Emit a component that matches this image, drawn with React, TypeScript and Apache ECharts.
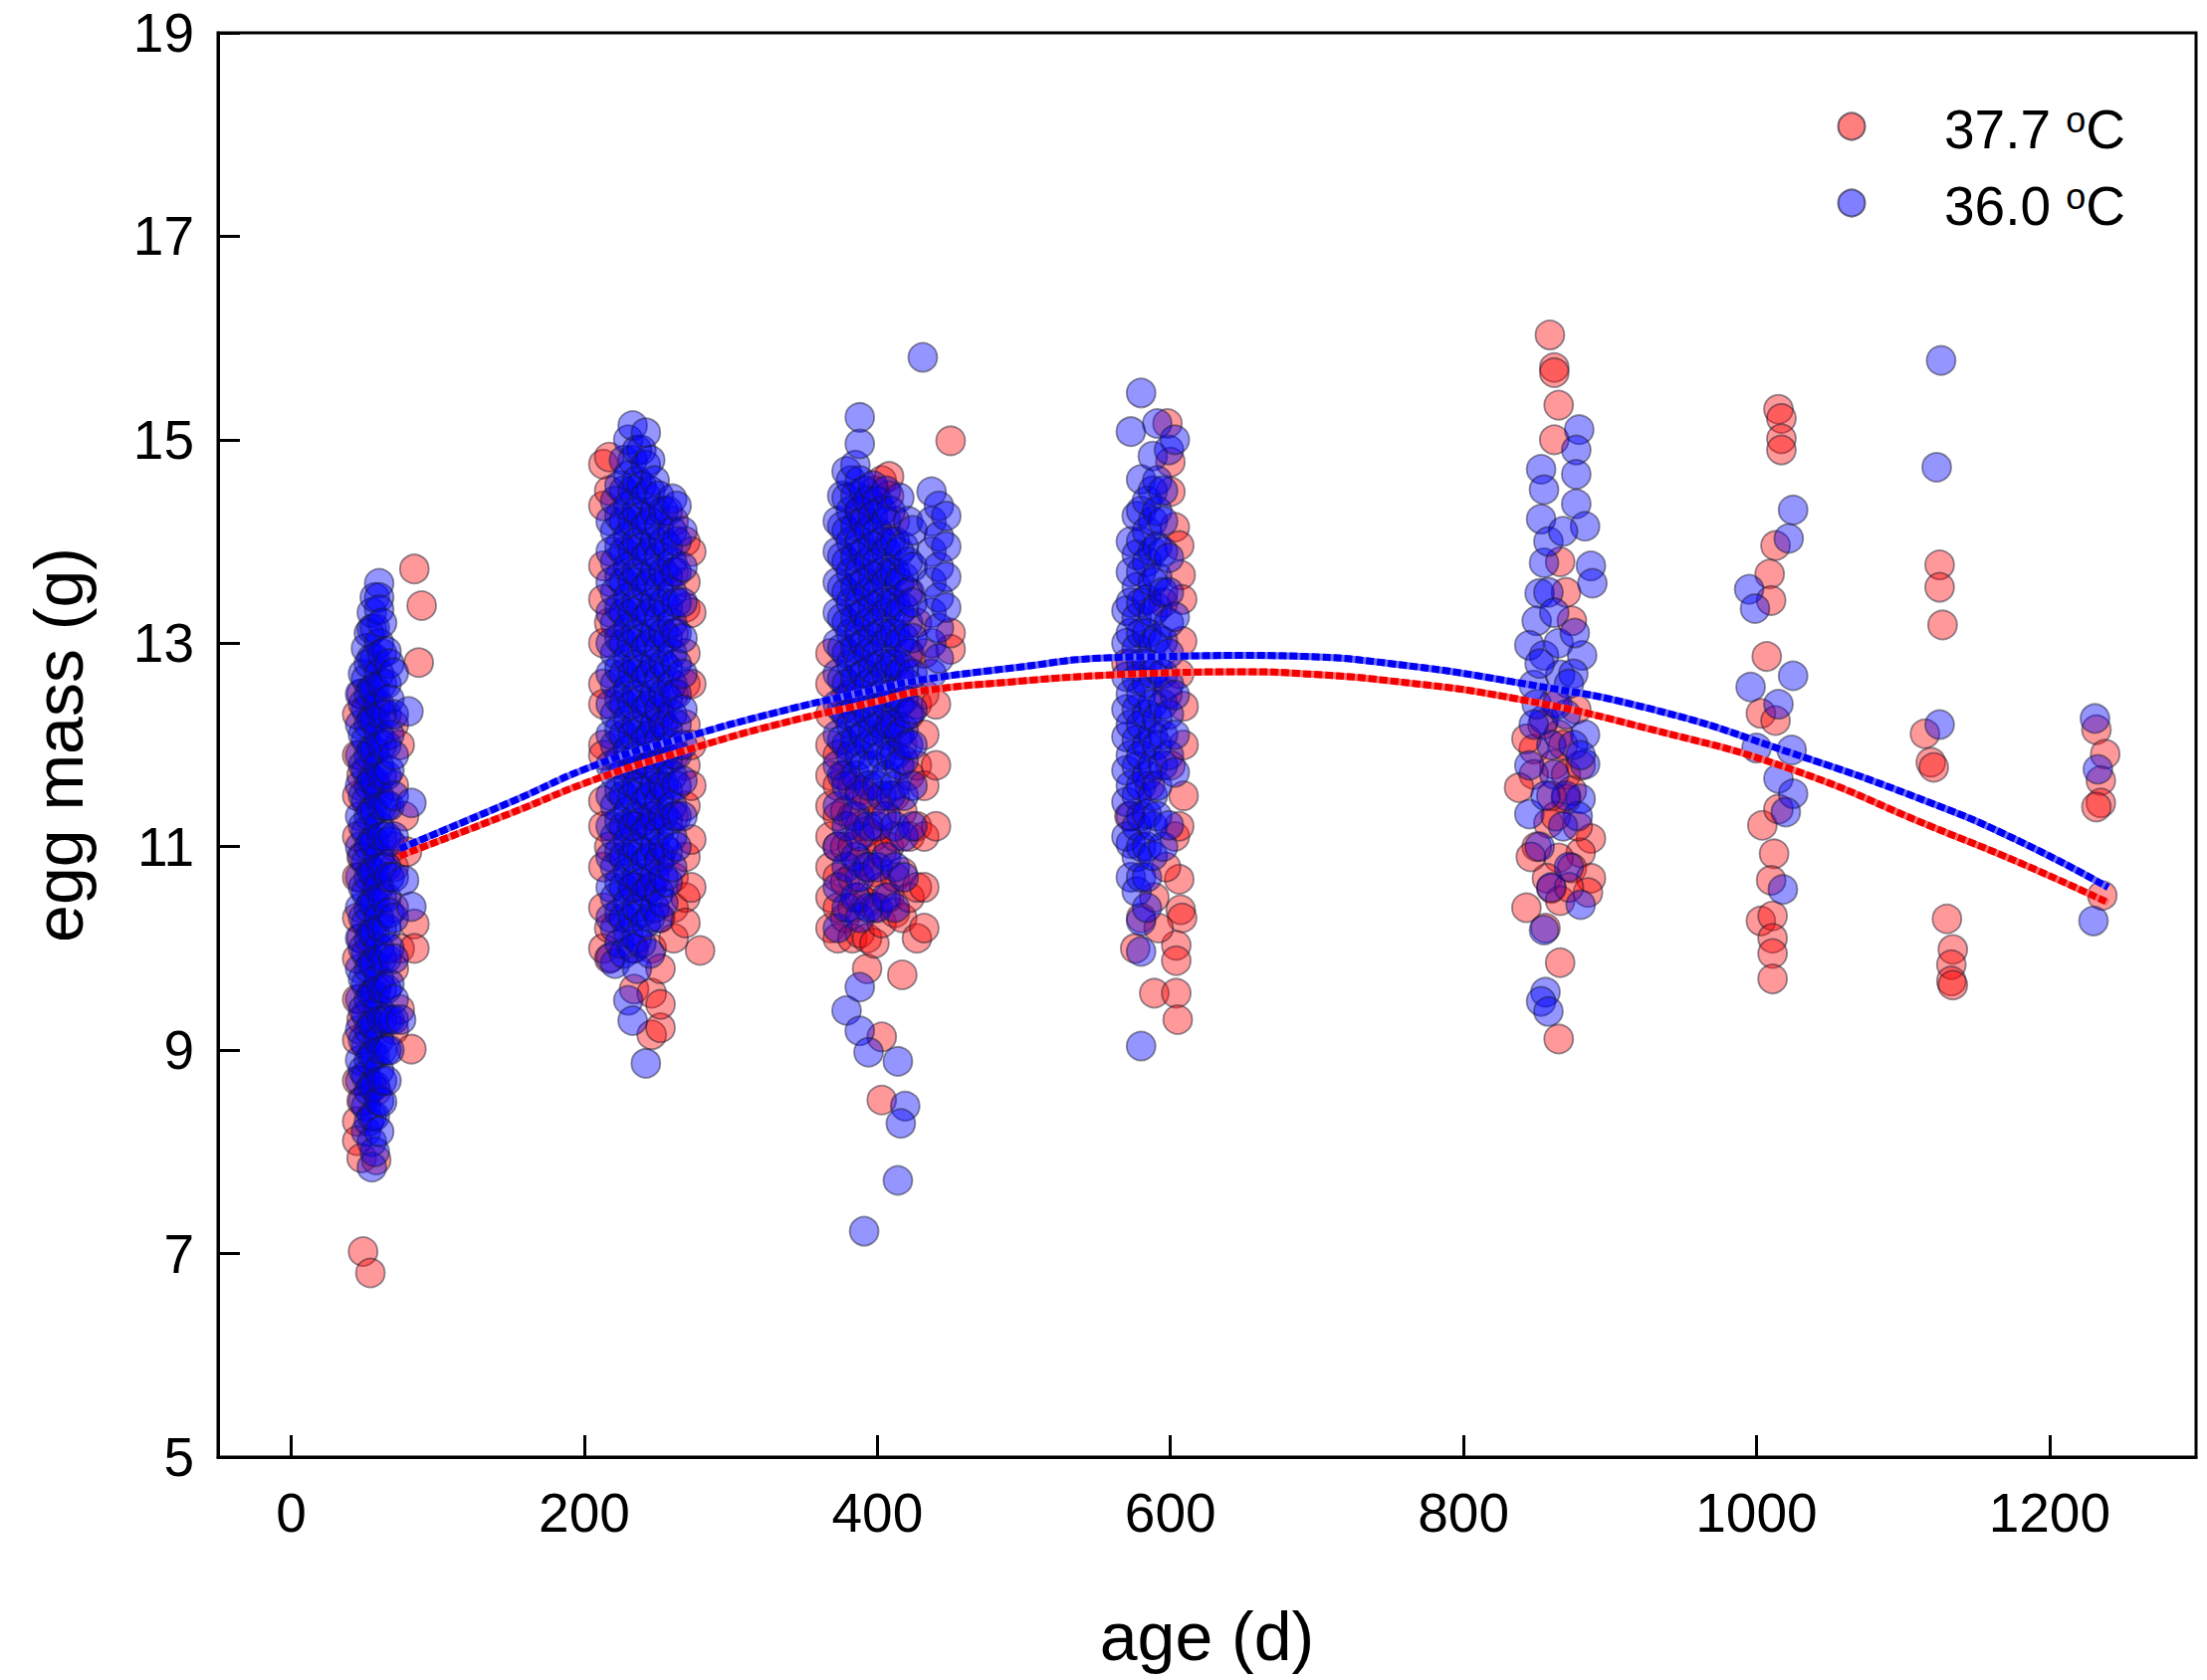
import React, { useEffect, useRef } from "react";
import * as echarts from "echarts";

type Col = [number, number[]];
type Pt = [number, number];

// ---------- tick values ----------
const xTicks = [0, 200, 400, 600, 800, 1000, 1200];

// ---------- 37.7 °C (red) : columns of [age, masses] ----------
const red1: Col[] = [
  [45, [12.3, 11.9, 11.5, 11.1, 10.7, 10.3, 9.9, 9.5, 9.1, 8.7, 8.3, 8.11]],
  [48, [7.94, 8.5, 9.3, 10.1, 10.9, 11.7, 12.5]],
  [58, [7.92, 8.6, 9.6, 10.6, 11.6, 12.4]],
  [70, [12.2, 11.6, 11.0, 10.4, 9.8, 9.2, 10.8]],
  [74, [12.0, 10.0, 9.4]],
];
const red1Out: Pt[] = [
  [84, 13.73], [89, 13.37], [87, 12.81], [84, 10.24], [84, 10.0], [82, 9.01],
  [49, 7.02], [54, 6.81], [79, 10.95], [77, 11.3],
];
const red2: Col[] = [
  [213, [14.76, 14.35, 13.76, 13.43, 13.0, 12.6, 12.4, 12.0, 11.9, 11.45, 11.2, 10.8, 10.4, 10.0]],
  [217, [14.83, 14.5, 13.2, 11.0, 10.2, 9.9]],
  [234, [11.8, 11.2, 10.6, 10.0, 9.6]],
  [246, [9.15, 9.56, 10.0, 10.6, 11.3, 12.0]],
  [252, [9.22, 9.45, 9.8, 10.3, 10.9, 11.6, 12.3]],
  [261, [10.1, 10.4, 10.7, 11.3, 11.9, 12.5, 13.1, 13.7, 14.2]],
  [269, [14.0, 13.6, 13.35, 12.9, 12.6, 12.2, 11.8, 11.4, 10.9, 10.5, 10.25]],
  [273, [10.6, 11.07, 11.6, 12.0, 12.6, 13.3, 13.9]],
  [279, [9.98]],
];
const red3: Col[] = [
  [368, [12.9, 12.6, 12.3, 12.0, 11.7, 11.4, 11.1, 10.8, 10.5, 10.2]],
  [373, [11.9, 11.6, 11.3, 11.0, 10.7, 10.4, 10.1]],
  [378, [12.45, 11.7, 11.35, 11.0, 10.65, 10.3]],
  [383, [11.6, 11.3, 11.0, 10.7, 10.4, 10.1]],
  [388, [11.55, 11.2, 10.85, 10.5, 10.15, 14.3]],
  [393, [11.5, 11.15, 10.8, 10.45, 10.1, 9.8]],
  [398, [11.45, 11.1, 10.75, 10.4, 10.05, 14.5]],
  [403, [11.3, 10.95, 10.6, 10.25, 9.13, 8.51, 14.6]],
  [408, [14.64, 14.45, 12.2, 11.0, 10.5]],
  [412, [11.5, 11.1, 10.7, 10.35, 14.2]],
  [417, [12.6, 12.0, 11.35, 10.75, 10.3, 9.74]],
  [422, [12.9, 12.3, 11.7, 11.1, 10.5, 13.5]],
  [427, [12.4, 11.8, 11.2, 10.6, 10.1, 13.2]],
  [432, [12.9, 12.5, 12.1, 11.6, 11.1, 10.6, 10.2]],
  [440, [12.4, 11.8, 11.2]],
  [450, [14.99, 12.94, 13.1]],
];
const red4: Pt[] = [
  [598, 15.16], [600, 14.78], [600, 14.49], [603, 14.14], [606, 13.96], [607, 13.67],
  [608, 13.43], [608, 13.02], [609, 12.38], [609, 12.0], [609, 11.5], [606, 10.68],
  [607, 10.38], [608, 10.3], [604, 10.03], [604, 9.88], [589, 9.56], [604, 9.56],
  [605, 9.3], [598, 12.5], [600, 11.8], [603, 11.1], [589, 10.5], [580, 10.3],
  [572, 11.3], [570, 12.8], [595, 13.4], [586, 11.6], [606, 12.7], [597, 10.8],
  [592, 10.2], [606, 11.2], [576, 10.0],
];
const red5: Pt[] = [
  [859, 16.03], [862, 15.71], [862, 15.66], [865, 15.34], [862, 15.0], [866, 13.8],
  [870, 13.5], [874, 13.22], [862, 12.42], [877, 12.35], [848, 11.96], [865, 12.1],
  [862, 11.81], [848, 11.71], [870, 11.71], [870, 11.47], [874, 11.55], [858, 11.23],
  [887, 11.08], [880, 10.94], [865, 10.89], [874, 10.79], [857, 10.69], [887, 10.69],
  [860, 10.59], [885, 10.55], [866, 10.47], [843, 10.4], [866, 9.86], [865, 9.11],
  [838, 11.58], [843, 12.06], [854, 12.2], [868, 12.0], [860, 11.5], [878, 11.2],
  [850, 11.0], [872, 10.6], [856, 10.2], [880, 11.8], [863, 11.3], [846, 10.9],
];
const red6: Pt[] = [
  [1015, 15.3], [1017, 15.21], [1017, 15.01], [1017, 14.9], [1013, 13.96], [1009, 13.68],
  [1010, 13.42], [1007, 12.87], [1003, 12.31], [1013, 12.24], [1004, 11.21], [1015, 11.37],
  [1012, 10.93], [1010, 10.67], [1003, 10.27], [1011, 10.32], [1011, 10.1], [1011, 9.95],
  [1011, 9.7],
];
const red7: Pt[] = [
  [1125, 13.77], [1125, 13.55], [1127, 13.18], [1115, 12.11], [1119, 11.83], [1121, 11.78],
  [1130, 10.29], [1134, 9.99], [1133, 9.84], [1133, 9.68], [1134, 9.64],
];
const red8: Pt[] = [
  [1232, 12.15], [1238, 11.91], [1235, 11.65], [1235, 11.43], [1232, 11.39], [1236, 10.52],
];

// ---------- 36.0 °C (blue) ----------
const blue1: Col[] = [
  [47, [12.5, 12.2, 11.9, 11.6, 11.3, 11.0, 10.7, 10.4, 10.1, 9.8, 9.5, 9.2, 8.9, 8.7]],
  [49, [12.7, 12.4, 12.1, 11.8, 11.5, 11.2, 10.9, 10.6, 10.3, 10.0, 9.7, 9.4, 9.1, 8.8, 8.5]],
  [51, [12.95, 12.65, 12.35, 12.05, 11.75, 11.45, 11.15, 10.85, 10.55, 10.25, 9.95, 9.65, 9.35, 9.05, 8.75, 8.45, 8.2]],
  [53, [13.1, 12.8, 12.5, 12.2, 11.9, 11.6, 11.3, 11.0, 10.7, 10.4, 10.1, 9.8, 9.5, 9.2, 8.9, 8.6, 8.3]],
  [55, [13.3, 13.14, 12.85, 12.55, 12.25, 11.95, 11.65, 11.35, 11.05, 10.75, 10.45, 10.15, 9.85, 9.55, 9.25, 8.95, 8.65, 8.35, 8.1, 7.85]],
  [57, [13.45, 13.15, 12.85, 12.55, 12.25, 11.95, 11.65, 11.35, 11.05, 10.75, 10.45, 10.15, 9.85, 9.55, 9.25, 8.95, 8.65, 8.35, 8.0]],
  [60, [13.59, 13.45, 13.33, 13.0, 12.7, 12.4, 12.1, 11.8, 11.5, 11.2, 10.9, 10.6, 10.3, 10.0, 9.7, 9.4, 9.1, 8.8, 8.5, 8.2]],
  [62, [13.2, 12.9, 12.6, 12.3, 12.0, 11.7, 11.4, 11.1, 10.8, 10.5, 10.2, 9.9, 9.6, 9.3, 9.0, 8.7, 8.49]],
  [65, [12.92, 12.6, 12.3, 12.0, 11.7, 11.4, 11.1, 10.8, 10.5, 10.2, 9.9, 9.6, 9.3, 9.0, 8.7]],
  [67, [12.8, 12.45, 12.1, 11.75, 11.4, 11.05, 10.7, 10.35, 10.0, 9.65, 9.3, 9.0]],
  [70, [12.71, 12.3, 11.9, 11.5, 11.1, 10.7, 10.3, 9.9, 9.5, 9.3]],
];
const blue1Out: Pt[] = [[80, 12.33], [82, 11.43], [77, 10.67], [82, 10.41], [75, 9.3]];
const blue2: Col[] = [
  [218, [14.2, 13.9, 13.6, 13.3, 13.0, 12.7, 12.4, 12.1, 11.8, 11.5, 11.2, 10.9, 10.6, 10.3, 9.91]],
  [221, [14.4, 14.1, 13.8, 13.5, 13.2, 12.9, 12.6, 12.3, 12.0, 11.7, 11.4, 11.1, 10.8, 10.5, 10.2, 9.85]],
  [224, [14.55, 14.25, 13.95, 13.65, 13.35, 13.05, 12.75, 12.45, 12.15, 11.85, 11.55, 11.25, 10.95, 10.65, 10.35, 10.05]],
  [227, [14.8, 14.5, 14.2, 13.9, 13.6, 13.3, 13.0, 12.7, 12.4, 12.1, 11.8, 11.5, 11.2, 10.9, 10.6, 10.3, 9.95]],
  [230, [15.0, 14.65, 14.35, 14.05, 13.75, 13.45, 13.15, 12.85, 12.55, 12.25, 11.95, 11.65, 11.35, 11.05, 10.75, 10.45, 10.15, 9.49]],
  [233, [15.14, 14.8, 14.5, 14.2, 13.9, 13.6, 13.3, 13.0, 12.7, 12.4, 12.1, 11.8, 11.5, 11.2, 10.9, 10.6, 10.3, 10.0, 9.29]],
  [236, [14.9, 14.6, 14.3, 14.0, 13.7, 13.4, 13.1, 12.8, 12.5, 12.2, 11.9, 11.6, 11.3, 11.0, 10.7, 10.4, 10.1, 9.8]],
  [239, [14.9, 14.55, 14.25, 13.95, 13.65, 13.35, 13.05, 12.75, 12.45, 12.15, 11.85, 11.55, 11.25, 10.95, 10.65, 10.35, 10.05]],
  [242, [15.07, 14.75, 14.45, 14.15, 13.85, 13.55, 13.25, 12.95, 12.65, 12.35, 12.05, 11.75, 11.45, 11.15, 10.85, 10.55, 10.25, 8.87]],
  [245, [14.8, 14.5, 14.2, 13.9, 13.6, 13.3, 13.0, 12.7, 12.4, 12.1, 11.8, 11.5, 11.2, 10.9, 10.6, 10.3, 9.95]],
  [248, [14.6, 14.3, 14.0, 13.7, 13.4, 13.1, 12.8, 12.5, 12.2, 11.9, 11.6, 11.3, 11.0, 10.7, 10.4]],
  [251, [14.45, 14.15, 13.85, 13.55, 13.25, 12.95, 12.65, 12.35, 12.05, 11.75, 11.45, 11.15, 10.85, 10.55, 10.3]],
  [254, [14.3, 14.0, 13.7, 13.4, 13.1, 12.8, 12.5, 12.2, 11.9, 11.6, 11.3, 11.0, 10.7, 10.45]],
  [257, [14.3, 13.95, 13.65, 13.35, 13.05, 12.75, 12.45, 12.15, 11.85, 11.55, 11.25, 10.95, 10.65]],
  [260, [14.42, 14.1, 13.8, 13.5, 13.2, 12.9, 12.6, 12.3, 12.0, 11.7, 11.4, 11.1, 10.8]],
  [263, [14.35, 14.0, 13.7, 13.4, 13.1, 12.8, 12.5, 12.2, 11.9, 11.6, 11.3, 11.0]],
  [267, [14.1, 13.75, 13.4, 13.05, 12.7, 12.35, 12.0, 11.65, 11.3]],
];
const blue3: Col[] = [
  [373, [14.2, 13.9, 13.6, 13.3, 13.0, 12.7, 12.4, 12.1, 11.8, 11.4, 11.0, 10.6, 10.2]],
  [376, [14.45, 14.15, 13.85, 13.55, 13.25, 12.95, 12.65, 12.35, 12.05, 11.7]],
  [379, [14.69, 14.43, 14.1, 13.8, 13.5, 13.2, 12.9, 12.6, 12.3, 12.0, 11.6, 11.2, 10.8, 10.4, 9.39]],
  [382, [14.6, 14.3, 14.0, 13.7, 13.4, 13.1, 12.8, 12.5, 12.2, 11.9]],
  [385, [14.75, 14.45, 14.15, 13.85, 13.55, 13.25, 12.95, 12.65, 12.35, 12.05, 11.7, 11.3, 10.9, 10.5]],
  [388, [15.22, 14.96, 14.6, 14.3, 14.0, 13.7, 13.4, 13.1, 12.8, 12.5, 12.2, 11.9, 11.5, 11.1, 10.7, 10.3, 9.62, 9.19]],
  [391, [14.5, 14.2, 13.9, 13.6, 13.3, 13.0, 12.7, 12.4, 12.1, 11.8]],
  [394, [14.4, 14.1, 13.8, 13.5, 13.2, 12.9, 12.6, 12.3, 12.0, 11.6, 11.2, 10.8, 10.4, 8.98]],
  [397, [14.55, 14.25, 13.95, 13.65, 13.35, 13.05, 12.75, 12.45, 12.15, 11.8]],
  [400, [14.4, 14.1, 13.8, 13.5, 13.2, 12.9, 12.6, 12.3, 12.0, 11.6, 11.2, 10.8, 10.4]],
  [403, [14.3, 14.0, 13.7, 13.4, 13.1, 12.8, 12.5, 12.2, 11.9, 11.5]],
  [406, [14.5, 14.2, 13.9, 13.6, 13.3, 13.0, 12.7, 12.4, 12.1, 11.7, 11.3, 10.9, 10.5]],
  [409, [14.3, 14.0, 13.7, 13.4, 13.1, 12.8, 12.5, 12.2, 11.9, 11.5]],
  [412, [14.0, 13.7, 13.4, 13.1, 12.8, 12.5, 12.2, 11.9, 11.6, 11.2, 10.8, 10.4]],
  [415, [14.43, 13.9, 13.6, 13.3, 13.0, 12.7, 12.4, 12.1, 11.8]],
  [418, [13.95, 13.65, 13.35, 13.05, 12.75, 12.45, 12.15, 11.85, 11.5, 11.1, 10.7]],
  [421, [14.2, 13.8, 13.5, 13.2, 12.9, 12.6, 12.3, 12.0]],
  [424, [14.11, 13.75, 13.4, 13.05, 12.7, 12.35, 12.0, 11.6, 11.2]],
  [437, [14.49, 14.2, 13.9, 13.6, 13.3, 13.0, 12.7]],
  [442, [14.35, 14.05, 13.75, 13.45, 13.15, 12.85]],
  [447, [14.25, 13.95, 13.65, 13.35]],
];
const blue3Out: Pt[] = [
  [431, 15.81], [414, 8.89], [419, 8.45], [416, 8.28], [414, 7.72], [391, 7.22],
];
const blue4: Col[] = [
  [570, [13.32, 13.0, 12.67, 12.35, 12.08, 11.75, 11.44, 11.1]],
  [573, [15.08, 14.0, 13.7, 13.4, 13.1, 12.8, 12.5, 12.2, 11.9, 11.6, 11.3, 11.03, 10.7]],
  [577, [14.25, 13.87, 13.55, 13.25, 12.95, 12.65, 12.35, 12.05, 11.79, 11.5, 11.2, 10.9, 10.56]],
  [580, [15.46, 14.61, 14.3, 14.0, 13.7, 13.4, 13.1, 12.8, 12.5, 12.2, 11.9, 11.6, 11.3, 11.0, 10.7, 10.27, 9.97, 9.04]],
  [584, [14.4, 14.1, 13.8, 13.43, 13.1, 12.8, 12.61, 12.3, 12.0, 11.7, 11.32, 11.0, 10.7, 10.4]],
  [588, [14.84, 14.5, 14.2, 13.9, 13.6, 13.3, 13.0, 12.7, 12.4, 12.1, 11.8, 11.5, 11.2, 10.91]],
  [591, [15.16, 14.6, 14.3, 13.95, 13.65, 13.35, 13.05, 12.75, 12.26, 12.0, 11.6, 11.3]],
  [595, [14.5, 14.2, 13.9, 13.5, 13.02, 12.7, 12.4, 12.1, 11.8, 11.0]],
  [599, [14.9, 13.84, 13.5, 13.2, 12.9, 12.6, 12.3, 11.9, 11.21]],
  [603, [15.0, 13.26, 12.49, 12.1, 11.73]],
];
const blue5: Pt[] = [
  [879, 15.1], [877, 14.9], [877, 14.66], [853, 14.71], [855, 14.51], [877, 14.37],
  [853, 14.22], [883, 14.15], [887, 13.76], [888, 13.59], [855, 13.79], [852, 13.49],
  [850, 13.22], [845, 12.98], [855, 12.88], [881, 12.88], [866, 12.69], [848, 12.59],
  [875, 12.7], [855, 12.25], [883, 12.1], [883, 11.81], [862, 11.71], [845, 11.32],
  [880, 11.47], [878, 11.3], [880, 10.43], [855, 10.18], [856, 9.57], [853, 9.48],
  [858, 9.38], [850, 12.4], [860, 12.0], [870, 12.3], [865, 13.0], [858, 13.5],
  [870, 11.5], [845, 11.8], [875, 12.0], [852, 12.8], [868, 11.2], [852, 11.0],
  [872, 10.8], [860, 10.6], [858, 14.0], [862, 13.3], [872, 12.6], [848, 12.2],
  [864, 12.4], [876, 13.1], [868, 14.1], [880, 11.9], [856, 11.5],
];
const blue6: Pt[] = [
  [1025, 14.31], [1022, 14.03], [995, 13.53], [999, 13.34], [996, 12.57], [1025, 12.68],
  [1015, 12.4], [1000, 11.97], [1024, 11.95], [1015, 11.67], [1025, 11.52], [1020, 11.34],
  [1018, 10.58],
];
const blue7: Pt[] = [[1126, 15.78], [1123, 14.73], [1125, 12.2]];
const blue8: Pt[] = [[1231, 12.26], [1233, 11.76], [1230, 10.27]];

// ---------- fitted curves ----------
const fitAges = [74, 150, 209, 270, 331, 400, 430, 500, 548, 600, 650, 691, 750, 834, 929, 1024, 1119, 1180, 1240];
const fitRed = [10.91, 11.33, 11.67, 11.95, 12.2, 12.43, 12.53, 12.63, 12.68, 12.71, 12.72, 12.7, 12.63, 12.46, 12.15, 11.76, 11.2, 10.84, 10.45];
const fitBlue = [10.98, 11.44, 11.81, 12.08, 12.32, 12.55, 12.64, 12.77, 12.85, 12.87, 12.88, 12.87, 12.8, 12.62, 12.35, 11.92, 11.43, 11.05, 10.6];

const flat = (cols: Col[]): Pt[] => cols.flatMap(([a, ms]) => ms.map((m) => [a, m] as Pt));

const FONT = "'Liberation Sans', Arial, Helvetica, sans-serif";

export default function App() {
  const ref = useRef<HTMLDivElement>(null);
  useEffect(() => {
    document.body.style.margin = "0";
    const chart = echarts.init(ref.current!, null, { renderer: "svg" });
    const redData = [
      ...flat(red1), ...red1Out, ...flat(red2), ...flat(red3), ...red4, ...red5, ...red6, ...red7, ...red8,
    ];
    const blueData = [
      ...flat(blue1), ...blue1Out, ...flat(blue2), ...flat(blue3), ...blue3Out, ...flat(blue4), ...blue5,
      ...blue6, ...blue7, ...blue8,
    ];
    const edge = "rgba(25,25,45,0.6)";
    const redFitData = fitAges.map((a, i) => [a, fitRed[i]]);
    const blueFitData = fitAges.map((a, i) => [a, fitBlue[i]]);
    const rich = {
      a: { fontSize: 55, fontFamily: FONT, color: "#000" },
      s: { fontSize: 36, fontFamily: FONT, color: "#000", verticalAlign: "top", lineHeight: 34 },
    };
    chart.setOption({
      animation: false,
      backgroundColor: "#fff",
      grid: {
        left: 219, top: 33, width: 1987, height: 1431,
        show: true, borderColor: "#000", borderWidth: 3, backgroundColor: "transparent",
      },
      xAxis: {
        type: "value", min: -50, max: 1300,
        name: "age (d)", nameLocation: "middle", nameGap: 146,
        nameTextStyle: { fontSize: 68, color: "#000", fontFamily: FONT },
        axisLine: { show: true, onZero: false, lineStyle: { color: "#000", width: 3 } },
        axisTick: { show: true, inside: true, length: 22, customValues: xTicks, lineStyle: { color: "#000", width: 3 } },
        axisLabel: {
          show: true, customValues: xTicks, fontSize: 55, color: "#000", fontFamily: FONT, margin: 28,
          formatter: (v: number) => String(v),
        },
        splitLine: { show: false },
      },
      yAxis: {
        type: "value", min: 5, max: 19, interval: 2,
        name: "egg mass (g)", nameLocation: "middle", nameGap: 126,
        nameTextStyle: { fontSize: 68, color: "#000", fontFamily: FONT },
        axisLine: { show: true, onZero: false, lineStyle: { color: "#000", width: 3 } },
        axisTick: { show: true, inside: true, length: 22, lineStyle: { color: "#000", width: 3 } },
        axisLabel: { fontSize: 55, color: "#000", fontFamily: FONT, margin: 24 },
        splitLine: { show: false },
      },
      series: [
        {
          name: "fit 37.7 base", type: "line", smooth: true, showSymbol: false, silent: true,
          data: redFitData, lineStyle: { color: "#ff6a6a", width: 7 },
        },
        {
          name: "fit 37.7", type: "line", smooth: true, showSymbol: false, silent: true,
          data: redFitData, lineStyle: { color: "#f20000", width: 7, type: [8, 3] },
        },
        {
          name: "fit 36.0 base", type: "line", smooth: true, showSymbol: false, silent: true,
          data: blueFitData, lineStyle: { color: "#6a6aff", width: 7 },
        },
        {
          name: "fit 36.0", type: "line", smooth: true, showSymbol: false, silent: true,
          data: blueFitData, lineStyle: { color: "#0000f2", width: 7, type: [8, 3] },
        },
        {
          name: "37.7 °C", type: "scatter", symbol: "circle", symbolSize: 29, data: redData,
          itemStyle: { color: "rgba(255,0,0,0.5)", borderColor: edge, borderWidth: 1.8 },
        },
        {
          name: "36.0 °C", type: "scatter", symbol: "circle", symbolSize: 29, data: blueData,
          itemStyle: { color: "rgba(0,0,255,0.52)", borderColor: edge, borderWidth: 1.8 },
        },
      ],
      graphic: [
        {
          type: "circle", shape: { cx: 1860, cy: 127, r: 13.5 },
          style: { fill: "rgba(255,0,0,0.5)", stroke: edge, lineWidth: 2 },
        },
        {
          type: "circle", shape: { cx: 1860, cy: 204, r: 13.5 },
          style: { fill: "rgba(0,0,255,0.5)", stroke: edge, lineWidth: 2 },
        },
        {
          type: "text", x: 1953, y: 130,
          style: { text: "{a|37.7 }{s|o}{a|C}", verticalAlign: "middle", align: "left", rich },
        },
        {
          type: "text", x: 1953, y: 207,
          style: { text: "{a|36.0 }{s|o}{a|C}", verticalAlign: "middle", align: "left", rich },
        },
      ],
    });
    return () => chart.dispose();
  }, []);
  return <div ref={ref} style={{ width: 2217, height: 1688 }} />;
}
